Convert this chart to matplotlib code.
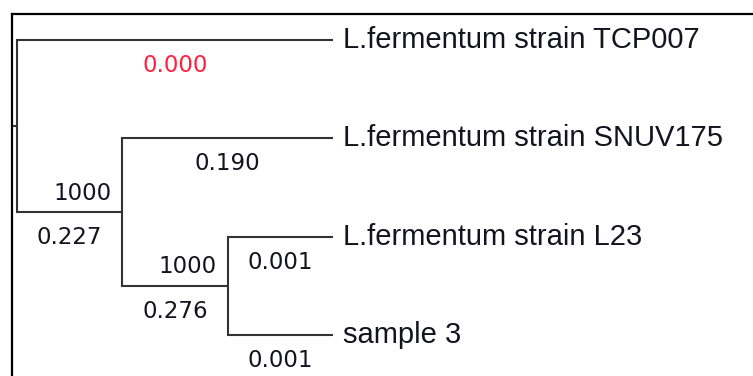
import matplotlib
matplotlib.use("Agg")
import matplotlib.pyplot as plt

# ---- tree data ----
leaf_names = ["L.fermentum strain TCP007", "L.fermentum strain SNUV175",
              "L.fermentum strain L23", "sample 3"]
# nodes: name -> children
children = {"root": ["TCP007", "n1"], "n1": ["SNUV175", "n2"], "n2": ["L23", "S3"]}
leaf_order = ["TCP007", "SNUV175", "L23", "S3"]
leaf_label = dict(zip(leaf_order, leaf_names))
branch_length_labels = {"TCP007": "0.000", "SNUV175": "0.190", "n1": "0.227",
                        "n2": "0.276", "L23": "0.001", "S3": "0.001"}
branch_label_colors = {"TCP007": "#ff2040"}
bootstrap = {"n1": "1000", "n2": "1000"}

LINE = "#333333"
TXT = "#141420"

W, H, DPI = 7.53, 3.76, 100
fig = plt.figure(figsize=(W, H), dpi=DPI)
# axes with only top and left border (frame in reference)
ax = fig.add_axes([12 / 753, 0, 741 / 753, 362 / 376])
for s in ["right", "bottom"]:
    ax.spines[s].set_visible(False)
for s in ["top", "left"]:
    ax.spines[s].set_linewidth(1.6)
    ax.spines[s].set_color("black")
ax.set_xticks([])
ax.set_yticks([])

# layout: cladogram, leaves aligned at max depth
depth = {}
def set_depth(n, d):
    depth[n] = d
    for c in children.get(n, []):
        set_depth(c, d + 1)
set_depth("root", 0)
max_depth = max(depth[l] for l in leaf_order)
xpos = {}
ypos = {}
for i, l in enumerate(leaf_order):
    ypos[l] = i
def set_pos(n):
    if n in children:
        ys = [set_pos(c) for c in children[n]]
        ypos[n] = sum(ys) / len(ys)
        xpos[n] = depth[n]
    else:
        xpos[n] = max_depth
    return ypos[n]
set_pos("root")

lw = 1.5
parent = {c: p for p, cs in children.items() for c in cs}
for n, cs in children.items():
    ys = [ypos[c] for c in cs]
    ax.plot([xpos[n], xpos[n]], [min(ys), max(ys)], color=LINE, lw=lw, solid_capstyle="projecting")
for c, p in parent.items():
    ax.plot([xpos[p], xpos[c]], [ypos[c], ypos[c]], color=LINE, lw=lw, solid_capstyle="butt")
# root stub
ax.plot([-0.06, xpos["root"]], [ypos["root"], ypos["root"]], color=LINE, lw=lw)

# leaf labels
for l in leaf_order:
    ax.annotate(leaf_label[l], (xpos[l], ypos[l]), xytext=(10, 0), textcoords="offset pixels",
                ha="left", va="center", fontsize=21, family="Liberation Sans", color=TXT)

# branch length labels (below middle of each branch)
for c, p in parent.items():
    xm = (xpos[p] + xpos[c]) / 2
    ax.annotate(branch_length_labels[c], (xm, ypos[c]), xytext=(0, -25.5), textcoords="offset pixels",
                ha="center", va="center", fontsize=16.5, family="DejaVu Sans",
                color=branch_label_colors.get(c, TXT))

# bootstrap values (above-left of node)
for n, b in bootstrap.items():
    ax.annotate(b, (xpos[n], ypos[n]), xytext=(-11, 19), textcoords="offset pixels",
                ha="right", va="center", fontsize=16.5, family="DejaVu Sans", color=TXT)

# scale: level -> pixels
ppx = 105.33
ppy = 98.33
ax.set_xlim(-5 / ppx, (741 - 5) / ppx)
ax.set_ylim((362 - 26) / ppy, -26 / ppy)

fig.savefig("out.png", dpi=DPI)
